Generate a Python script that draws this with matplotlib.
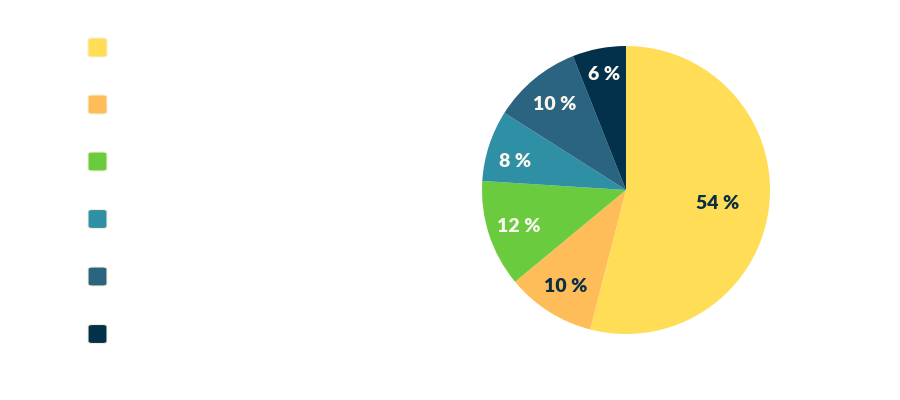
import numpy as np
import matplotlib.pyplot as plt
from matplotlib.patches import FancyBboxPatch

shares = [54, 10, 12, 8, 10, 6]
colors = ["#FFDD57", "#FFBD59", "#6BCB3F", "#2E8FA5", "#2A6480", "#03304A"]
text_colors = ["#0B2E45", "#0B2E45", "#FBF8EF", "#FBF8EF", "#FBF8EF", "#FBF8EF"]
label_dist = [0.64, 0.78, 0.78, 0.80, 0.78, 0.83]
label_shift = [0, 0, 0, 3, 0, 0]  # degrees

fig = plt.figure(figsize=(9, 4), dpi=100)

# pie: center (626,190) px, radius 144 px
ax = fig.add_axes([(626 - 144) / 900, (400 - 190 - 144) / 400, 288 / 900, 288 / 400])
wedges, _ = ax.pie(shares, colors=colors, startangle=90, counterclock=False,
                   radius=1, wedgeprops=dict(linewidth=0))
ax.set_xlim(-1, 1)
ax.set_ylim(-1, 1)
ax.set_aspect("equal")
ax.axis("off")

for w, v, tc, d, s in zip(wedges, shares, text_colors, label_dist, label_shift):
    ang = np.deg2rad((w.theta1 + w.theta2) / 2 + s)
    ax.text(d * np.cos(ang), d * np.sin(ang), f"{v} %", ha="center", va="center_baseline",
            color=tc, fontsize=14, fontweight="heavy", family="Lato")

# legend swatches without labels
ys = [47.5, 104.5, 161.5, 219, 276.5, 334]
for y, c in zip(ys, colors):
    size = 19
    box = FancyBboxPatch(((97.5 - size / 2) / 900, (400 - y - size / 2) / 400),
                         size / 900, size / 400,
                         boxstyle="round,pad=0,rounding_size=0.005",
                         transform=fig.transFigure, facecolor=c,
                         edgecolor="#F3EFD6", linewidth=0.8)
    fig.patches.append(box)

fig.savefig("out.png", dpi=100)
